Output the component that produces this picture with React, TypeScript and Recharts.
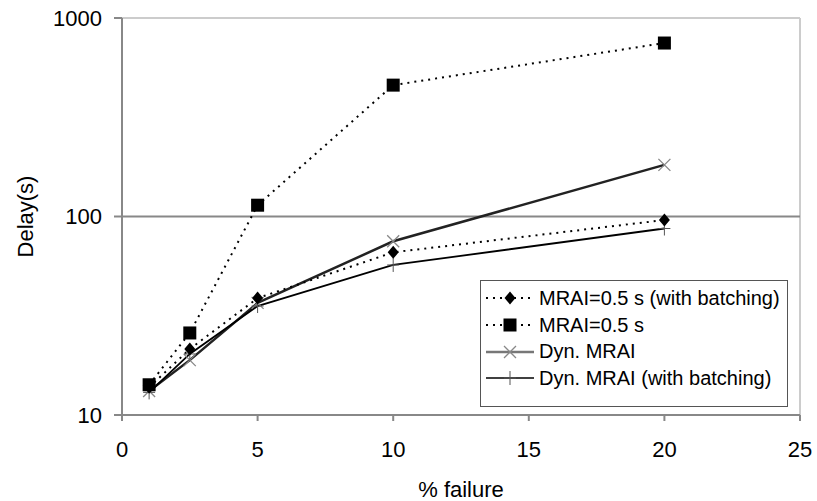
import React from 'react';
import { LineChart, Line, XAxis, YAxis, ReferenceLine } from 'recharts';

const failures = [1, 2.5, 5, 10, 20];
const batched05 = [13.8, 21.5, 38.8, 66, 96];
const mrai05 = [14.2, 25.9, 114, 459, 748];
const dynMrai = [13.2, 18.9, 36.7, 75, 182];
const dynBatched = [13, 20.3, 35.4, 57, 87];

const xTicks = [0, 5, 10, 15, 20, 25];
const yTicks = [10, 100, 1000];

const data = failures.map((f, i) => ({
  failure: f,
  batched05: batched05[i],
  mrai05: mrai05[i],
  dynMrai: dynMrai[i],
  dynBatched: dynBatched[i],
}));

const FONT = '"Liberation Sans", Arial, sans-serif';

const Diamond = ({ cx, cy }: any) => (
  <path d={`M${cx},${cy - 6.5}L${cx + 5.5},${cy}L${cx},${cy + 6.5}L${cx - 5.5},${cy}Z`} fill="#000" />
);
const Square = ({ cx, cy }: any) => (
  <rect x={cx - 6.5} y={cy - 6.5} width={13} height={13} fill="#000" />
);
const Cross = ({ cx, cy }: any) => (
  <path d={`M${cx - 6},${cy - 6}L${cx + 6},${cy + 6}M${cx - 6},${cy + 6}L${cx + 6},${cy - 6}`} stroke="#888" strokeWidth={1.3} fill="none" />
);
const Plus = ({ cx, cy }: any) => (
  <path d={`M${cx},${cy - 7}L${cx},${cy + 7}M${cx - 6},${cy}L${cx + 6},${cy}`} stroke="#555" strokeWidth={1} fill="none" />
);

const legendItems = [
  { label: 'MRAI=0.5 s (with batching)', dash: '2 5', color: '#000', width: 2, Marker: Diamond },
  { label: 'MRAI=0.5 s', dash: '2 5', color: '#000', width: 2, Marker: Square },
  { label: 'Dyn. MRAI', dash: undefined, color: '#777', width: 2.5, Marker: Cross },
  { label: 'Dyn. MRAI (with batching)', dash: undefined, color: '#000', width: 1.5, Marker: Plus },
];

const LegendBox = () => (
  <div
    style={{
      position: 'absolute',
      left: 480,
      top: 280,
      width: 306,
      height: 121,
      border: '1px solid #555',
      background: '#fff',
      paddingTop: 4,
      boxSizing: 'content-box',
      fontFamily: FONT,
      fontSize: 20,
      color: '#000',
    }}
  >
    {legendItems.map((it) => (
      <div key={it.label} style={{ display: 'flex', alignItems: 'center', height: 26.7, whiteSpace: 'nowrap' }}>
        <svg width={52} height={16} style={{ marginLeft: 3, marginRight: 3, flex: 'none' }}>
          <line x1={2} y1={8} x2={50} y2={8} stroke={it.color} strokeWidth={it.width} strokeDasharray={it.dash} />
          <it.Marker cx={26} cy={8} />
        </svg>
        <span>{it.label}</span>
      </div>
    ))}
  </div>
);

export default function App() {
  return (
    <div style={{ position: 'absolute', left: 0, top: 0, width: 817, height: 501, background: '#fff' }}>
      <LineChart
        width={817}
        height={501}
        data={data}
        margin={{ top: 18, right: 17, bottom: 0, left: 0 }}
        style={{ fontFamily: FONT }}
      >
        <XAxis
          dataKey="failure"
          type="number"
          domain={[0, 25]}
          ticks={xTicks}
          stroke="#888"
          strokeWidth={2}
          tick={{ fill: '#000', fontSize: 22 }}
          tickSize={6}
          tickMargin={20}
          height={86}
          label={{ value: '% failure', position: 'insideBottom', offset: 4, fill: '#000', fontSize: 22 }}
        />
        <YAxis
          type="number"
          scale="log"
          domain={[10, 1000]}
          ticks={yTicks}
          allowDataOverflow
          stroke="#888"
          strokeWidth={2}
          tick={{ fill: '#000', fontSize: 22 }}
          tickSize={8}
          tickMargin={12}
          width={122}
          label={{ value: 'Delay(s)', angle: -90, position: 'insideLeft', offset: 25, fill: '#000', fontSize: 22, style: { textAnchor: 'middle' } }}
        />
        <ReferenceLine y={1000} stroke="#ccc" strokeWidth={2} />
        <ReferenceLine x={25} stroke="#ccc" strokeWidth={2} />
        <ReferenceLine y={100} stroke="#888" strokeWidth={2} />
        <Line dataKey="dynMrai" stroke="#222" strokeWidth={2.5} dot={<Cross />} isAnimationActive={false} />
        <Line dataKey="dynBatched" stroke="#000" strokeWidth={1.8} dot={<Plus />} isAnimationActive={false} />
        <Line dataKey="batched05" stroke="#000" strokeWidth={2} strokeDasharray="2 5" dot={<Diamond />} isAnimationActive={false} />
        <Line dataKey="mrai05" stroke="#000" strokeWidth={2} strokeDasharray="2 5" dot={<Square />} isAnimationActive={false} />
      </LineChart>
      <LegendBox />
    </div>
  );
}
